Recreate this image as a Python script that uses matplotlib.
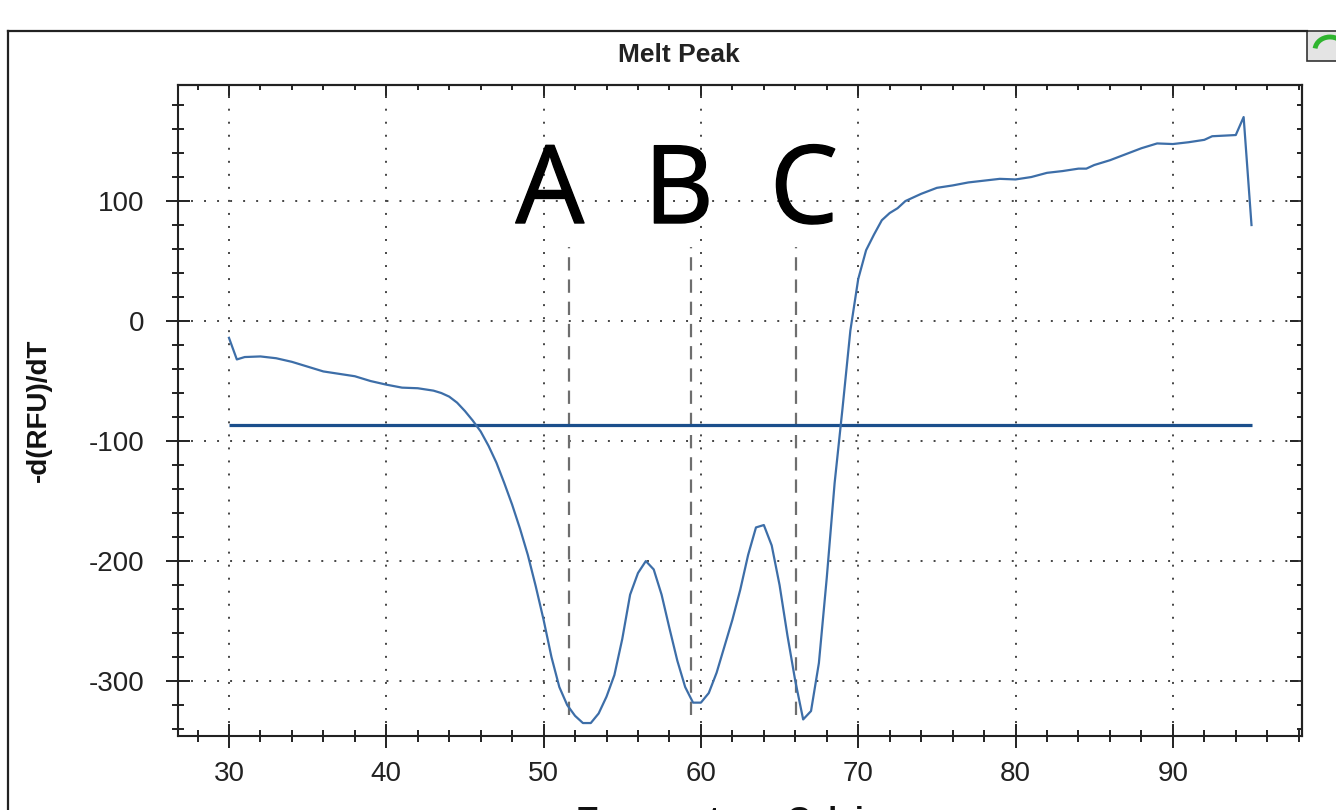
import matplotlib
matplotlib.use("Agg")
import matplotlib.pyplot as plt
import matplotlib.patheffects as pe
from matplotlib.ticker import MultipleLocator
from matplotlib.lines import Line2D
from matplotlib.patches import Rectangle, Arc

plt.rcParams["axes.unicode_minus"] = False

# ---- data ----
temperature = [30.0, 30.5, 31.0, 32.0, 33.0, 34.0, 35.0, 36.0, 37.0, 38.0, 39.0, 40.0,
               41.0, 42.0, 43.0, 43.5, 44.0, 44.5, 45.0, 45.5, 46.0, 46.5, 47.0, 47.5,
               48.0, 48.5, 49.0, 49.5, 50.0, 50.5, 51.0, 51.5, 52.0, 52.5, 53.0, 53.5,
               54.0, 54.5, 55.0, 55.5, 56.0, 56.5, 57.0, 57.5, 58.0, 58.5, 59.0, 59.5,
               60.0, 60.5, 61.0, 61.5, 62.0, 62.5, 63.0, 63.5, 64.0, 64.5, 65.0, 65.5,
               66.0, 66.5, 67.0, 67.5, 68.0, 68.5, 69.0, 69.5, 70.0, 70.5, 71.0, 71.5,
               72.0, 72.5, 73.0, 74.0, 75.0, 76.0, 77.0, 78.0, 79.0, 80.0, 81.0, 82.0,
               83.0, 84.0, 84.5, 85.0, 86.0, 87.0, 88.0, 89.0, 90.0, 91.0, 92.0, 92.5,
               94.0, 94.5, 95.0]
melt_deriv = [-14, -32, -30, -29.5, -31, -34, -38, -42, -44, -46, -50, -53,
              -55.5, -56, -58, -60, -63, -68, -75, -83, -92, -104, -118, -135,
              -153, -173, -195, -221, -249, -280, -305, -320, -329, -335, -335, -327,
              -313, -295, -265, -228, -210, -200, -207, -228, -256, -283, -305, -318,
              -318, -310, -293, -271, -249, -224, -195, -172, -170, -187, -220, -262,
              -300, -332, -325, -285, -214, -135, -73, -8, 35, 59, 72, 84,
              90, 94, 100, 106, 111, 113, 115.5, 117, 118.5, 118, 120, 123.5,
              125, 127, 127, 130, 134, 139, 144, 148, 147.5, 149, 151, 154,
              155, 170, 80]

threshold_value = -87
threshold_range = [30, 95]

peak_temps = [51.63, 59.35, 66.05]
peak_line_range = [-328, 62]

peak_labels = ["A", "B", "C"]
peak_label_x = [50.4, 58.6, 66.55]
peak_label_y = 81.7

x_major = [30, 40, 50, 60, 70, 80, 90]
y_major = [-300, -200, -100, 0, 100]

W, H = 1336, 810
fig = plt.figure(figsize=(W / 100, H / 100), dpi=100)
fig.patch.set_facecolor("white")

L, R, T, B = 178, 1302, 85, 736
ax = fig.add_axes([L / W, 1 - B / H, (R - L) / W, (B - T) / H])

ax.set_xlim(26.76, 98.21)
ax.set_ylim(-345.8, 196.7)

curve_color = "#3d6ea8"
ax.plot(temperature, melt_deriv, color=curve_color, lw=1.6, zorder=4)
ax.hlines(threshold_value, threshold_range[0], threshold_range[1],
          color="#1b4f8c", lw=2.3, zorder=3)
ax.vlines(peak_temps, peak_line_range[0], peak_line_range[1],
          colors="#6e6e6e", lw=1.6, linestyles=(0, (6, 4)), zorder=2)

for lab, lx in zip(peak_labels, peak_label_x):
    ax.text(lx, peak_label_y, lab, ha="center", va="baseline",
            fontsize=78, family="Open Sans", color="black", zorder=5,
            path_effects=[pe.withStroke(linewidth=1.0, foreground="black")])

# grid
ax.set_xticks(x_major)
ax.set_yticks(y_major)
ax.xaxis.set_minor_locator(MultipleLocator(2))
ax.yaxis.set_minor_locator(MultipleLocator(20))
ax.grid(True, which="major", color="#444444", lw=1.4, linestyle=(0, (1, 5.7)))

for s in ax.spines.values():
    s.set_linewidth(1.5)
    s.set_color("#222222")

ax.tick_params(axis="both", which="major", direction="inout", length=17.3, width=1.4,
               color="#222222", labelcolor="#222222", top=False, right=False)
ax.tick_params(axis="both", which="minor", direction="inout", length=9, width=1.4,
               color="#222222", top=False, right=False)
ax.tick_params(axis="x", which="major", pad=9.3)
ax.tick_params(axis="y", which="major", pad=15.8)
for lbl in ax.get_xticklabels() + ax.get_yticklabels():
    lbl.set_fontfamily("Liberation Sans")
    lbl.set_fontsize(20)

# top / right inward ticks
secx = ax.secondary_xaxis("top")
secx.set_xticks(x_major)
secx.xaxis.set_minor_locator(MultipleLocator(2))
secx.tick_params(which="major", direction="in", length=9, width=1.4, labeltop=False, color="#222222")
secx.tick_params(which="minor", direction="in", length=3.6, width=1.4, color="#222222")
secx.spines["top"].set_linewidth(1.5)
secy = ax.secondary_yaxis("right")
secy.set_yticks(y_major)
secy.yaxis.set_minor_locator(MultipleLocator(20))
secy.tick_params(which="major", direction="in", length=9, width=1.4, labelright=False, color="#222222")
secy.tick_params(which="minor", direction="in", length=3.6, width=1.4, color="#222222")
secy.spines["right"].set_linewidth(1.5)

ax.set_ylabel("-d(RFU)/dT", fontsize=20, fontweight="bold", family="Liberation Sans",
              color="#111111")
ax.yaxis.set_label_coords((52 - L) / (R - L), 0.5 + (410 - (T + B) / 2) / -(B - T))
ax.set_xlabel("Temperature, Celsius", fontsize=23, fontweight="bold",
              family="Liberation Sans", color="#111111")
ax.xaxis.set_label_coords(0.5, (B - 806) / (B - T))

fig.text(679 / W, 1 - 55 / H, "Melt Peak", ha="center", va="center",
         fontsize=19, fontweight="bold", family="Liberation Sans", color="#222222")

# outer frame
fig.add_artist(Line2D([8 / W, 1307 / W], [1 - 31 / H, 1 - 31 / H],
                      transform=fig.transFigure, color="#222222", lw=1.6))
fig.add_artist(Line2D([8 / W, 8 / W], [1 - 31 / H, 0],
                      transform=fig.transFigure, color="#222222", lw=1.6))
fig.add_artist(Rectangle((1307 / W, 1 - 61 / H), 40 / W, 30 / H,
                         transform=fig.transFigure, facecolor="#e4e4e4",
                         edgecolor="#333333", lw=1.2))
fig.add_artist(Arc((1330 / W, 1 - 50 / H), 30 / W, 26 / H, theta1=20, theta2=170,
                   transform=fig.transFigure, color="#2fb52f", lw=3.5))

fig.savefig("out.png", dpi=100, facecolor="white")
